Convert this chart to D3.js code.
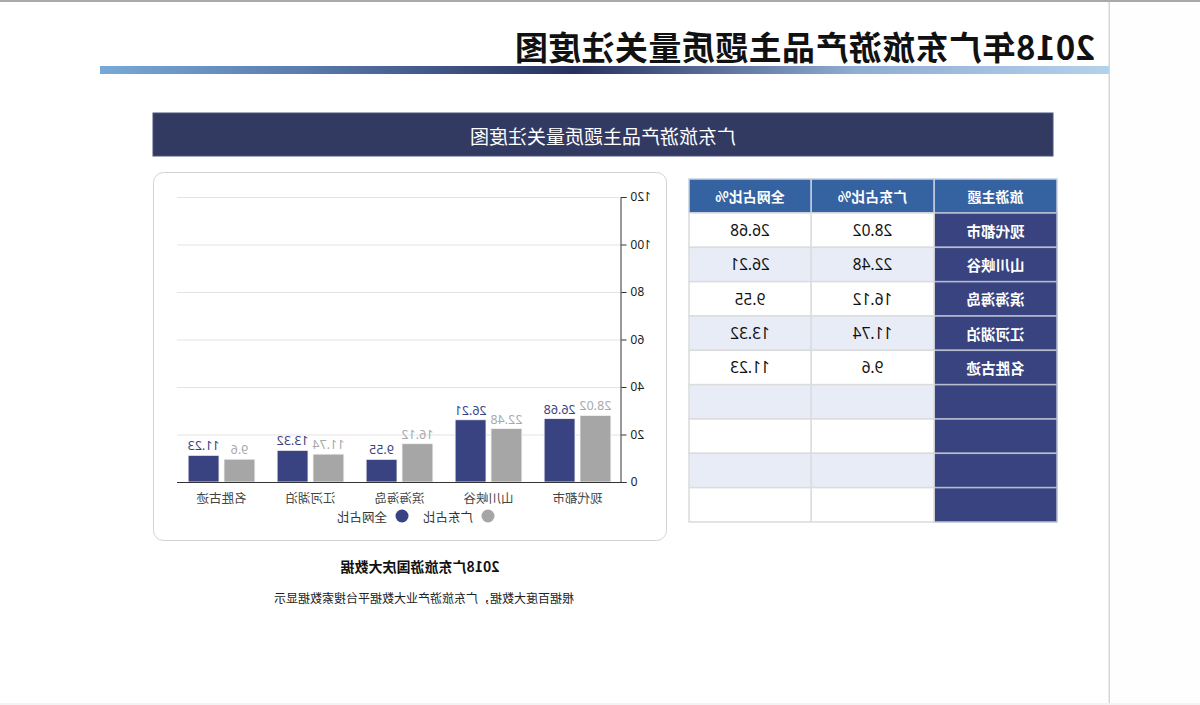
<!DOCTYPE html>
<html>
<head>
<meta charset="utf-8">
<script src="https://cdn.jsdelivr.net/npm/d3@7"></script>
<style>
  html, body { margin: 0; padding: 0; background: #fff; overflow: hidden; }
  #wrap { width: 1200px; height: 705px; transform: scaleX(-1); transform-origin: 600px 352px; }
  text { font-family: "Noto Sans CJK SC", "Noto Sans", sans-serif; }
</style>
</head>
<body>
<div id="wrap"></div>
<script>
const pageTitle = "2018年广东旅游产品主题质量关注度图";
const bannerTitle = "广东旅游产品主题质量关注度图";
const categories = ["现代都市", "山川峡谷", "滨海海岛", "江河湖泊", "名胜古迹"];
const seriesNames = ["广东占比", "全网占比"];
const guangdong = [28.02, 22.48, 16.12, 11.74, 9.6];
const national = [26.68, 26.21, 9.55, 13.32, 11.23];
const yTicks = [0, 20, 40, 60, 80, 100, 120];
const tableHeaders = ["旅游主题", "广东占比%", "全网占比%"];
const tableEmptyRows = 4;
const captionTitle = "2018广东旅游国庆大数据";
const captionText = "根据百度大数据，广东旅游产业大数据平台搜索数据显示";

const colors = { gd: "#a7a6a7", nat: "#3a4382", gdLabel: "#a9a9ab", natLabel: "#3a4382" };

const svg = d3.select("#wrap").append("svg").attr("width", 1200).attr("height", 705);

// page frame
svg.append("rect").attr("x", 0).attr("y", 0).attr("width", 91).attr("height", 705).attr("fill", "#fefefe");
svg.append("rect").attr("x", 0).attr("y", 0).attr("width", 1200).attr("height", 2).attr("fill", "#a9a9a9");
svg.append("rect").attr("x", 90).attr("y", 2).attr("width", 1.5).attr("height", 703).attr("fill", "#d6d6d6");
svg.append("rect").attr("x", 0).attr("y", 703).attr("width", 1200).attr("height", 2).attr("fill", "#f3f3f3");

// title
svg.append("text").attr("x", 105).attr("y", 46).attr("dominant-baseline", "central")
  .attr("font-size", 33).attr("font-weight", 700).attr("letter-spacing", 0.4)
  .attr("fill", "#111").text(pageTitle);

// gradient bar
const defs = svg.append("defs");
const grad = defs.append("linearGradient").attr("id", "tg").attr("x1", "0%").attr("x2", "100%");
[[0, "#b4d1eb"], [0.25, "#8eaed2"], [0.53, "#27315e"], [0.8, "#5a7cae"], [1, "#78a9d6"]]
  .forEach(([o, c]) => grad.append("stop").attr("offset", o).attr("stop-color", c));
svg.append("rect").attr("x", 91).attr("y", 66).attr("width", 1009).attr("height", 8).attr("fill", "url(#tg)");

// banner
svg.append("rect").attr("x", 147).attr("y", 113).attr("width", 900).attr("height", 43)
  .attr("fill", "#323a62").attr("stroke", "#4a5280").attr("stroke-width", 1);
svg.append("text").attr("x", 597).attr("y", 135).attr("text-anchor", "middle").attr("dominant-baseline", "central")
  .attr("font-size", 19).attr("fill", "#fff").text(bannerTitle);

// chart card
svg.append("rect").attr("x", 533.5).attr("y", 172.5).attr("width", 513).attr("height", 368).attr("rx", 10)
  .attr("fill", "#fff").attr("stroke", "#d2d2d2").attr("stroke-width", 1);

const x0 = d3.scaleBand().domain(categories).range([578, 1023]);
const x1 = d3.scaleBand().domain(seriesNames).range([0, x0.bandwidth()]).paddingInner(0.14).paddingOuter(0.31);
const y = d3.scaleLinear().domain([0, 120]).range([482, 197]);

// grid
svg.append("g").selectAll("line").data(yTicks.filter(d => d > 0)).join("line")
  .attr("x1", 578).attr("x2", 1023).attr("y1", d => y(d) + 0.5).attr("y2", d => y(d) + 0.5)
  .attr("stroke", "#e3e3e3").attr("stroke-width", 1);

// y axis
const yAxis = svg.append("g").attr("transform", "translate(578.5,0)")
  .call(d3.axisLeft(y).tickValues(yTicks).tickSize(5).tickPadding(4));
yAxis.select(".domain").attr("stroke", "#333");
yAxis.selectAll(".tick line").attr("stroke", "#333");
yAxis.selectAll(".tick text").attr("font-size", 12).attr("fill", "#222")
  .style("font-family", "'Noto Sans', sans-serif");

// bars
const rows = categories.map((c, i) => ({ cat: c, vals: [
  { s: seriesNames[0], v: guangdong[i], fill: colors.gd, lab: colors.gdLabel },
  { s: seriesNames[1], v: national[i], fill: colors.nat, lab: colors.natLabel }] }));

const groups = svg.append("g").selectAll("g").data(rows).join("g")
  .attr("transform", d => `translate(${x0(d.cat)},0)`);
groups.selectAll("rect").data(d => d.vals).join("rect")
  .attr("x", d => x1(d.s)).attr("y", d => y(d.v)).attr("width", x1.bandwidth())
  .attr("height", d => y(0) - y(d.v)).attr("fill", d => d.fill)
  .attr("stroke", "#f4f4f4").attr("stroke-width", 0.8);
groups.selectAll("text").data(d => d.vals).join("text")
  .attr("x", d => x1(d.s) + x1.bandwidth() / 2).attr("y", d => y(d.v) - 5)
  .attr("text-anchor", "middle").attr("font-size", 12.5).attr("fill", d => d.lab)
  .style("font-family", "'Noto Sans', sans-serif").text(d => d.v);

// x axis
svg.append("line").attr("x1", 578).attr("x2", 1023).attr("y1", 482.5).attr("y2", 482.5)
  .attr("stroke", "#333").attr("stroke-width", 1.2);
svg.append("g").selectAll("text").data(categories).join("text")
  .attr("x", d => x0(d) + x0.bandwidth() / 2).attr("y", 497).attr("dominant-baseline", "central")
  .attr("text-anchor", "middle").attr("font-size", 12.5).attr("fill", "#444").text(d => d);

// legend
const legend = [{ n: seriesNames[0], c: colors.gd, cx: 712 }, { n: seriesNames[1], c: colors.nat, cx: 798 }];
const lg = svg.append("g").selectAll("g").data(legend).join("g");
lg.append("circle").attr("cx", d => d.cx).attr("cy", 516).attr("r", 6.5).attr("fill", d => d.c);
lg.append("text").attr("x", d => d.cx + 15).attr("y", 516).attr("dominant-baseline", "central")
  .attr("font-size", 12.5).attr("fill", "#333").text(d => d.n);

// table
const colX = [143, 266, 389, 511];
const headH = 34, rowH = 34.33, tTop = 179;
const tableRows = categories.map((c, i) => [c, guangdong[i], national[i]])
  .concat(d3.range(tableEmptyRows).map(() => ["", "", ""]));
const tg = svg.append("g");
tableHeaders.forEach((h, j) => {
  tg.append("rect").attr("x", colX[j]).attr("y", tTop).attr("width", colX[j + 1] - colX[j]).attr("height", headH)
    .attr("fill", "#3562a1").attr("stroke", "#c5cfe0").attr("stroke-width", 1.5);
  tg.append("text").attr("x", (colX[j] + colX[j + 1]) / 2).attr("y", tTop + headH / 2)
    .attr("text-anchor", "middle").attr("dominant-baseline", "central").attr("font-size", 14)
    .attr("font-weight", 700).attr("fill", "#fff").text(h);
});
tableRows.forEach((r, i) => {
  const ry = tTop + headH + i * rowH;
  r.forEach((v, j) => {
    const first = j === 0;
    tg.append("rect").attr("x", colX[j]).attr("y", ry).attr("width", colX[j + 1] - colX[j]).attr("height", rowH)
      .attr("fill", first ? "#39437f" : (i % 2 ? "#e8ecf6" : "#ffffff"))
      .attr("stroke", first ? "#b8bccf" : "#dcdcdc").attr("stroke-width", 1.5);
    tg.append("text").attr("x", (colX[j] + colX[j + 1]) / 2).attr("y", ry + rowH / 2)
      .attr("text-anchor", "middle").attr("dominant-baseline", "central")
      .attr("font-size", first ? 14.5 : 15.5).attr("font-weight", first ? 700 : 400)
      .attr("fill", first ? "#fff" : "#111")
      .style("font-family", first ? "'Noto Sans CJK SC', sans-serif" : "'Noto Sans', sans-serif")
      .text(v);
  });
});

// caption
svg.append("text").attr("x", 780).attr("y", 566).attr("text-anchor", "middle").attr("dominant-baseline", "central")
  .attr("font-size", 14).attr("font-weight", 700).attr("fill", "#111").text(captionTitle);
svg.append("text").attr("x", 776).attr("y", 597).attr("text-anchor", "middle").attr("dominant-baseline", "central")
  .attr("font-size", 12).attr("fill", "#222").text(captionText);
</script>
</body>
</html>
